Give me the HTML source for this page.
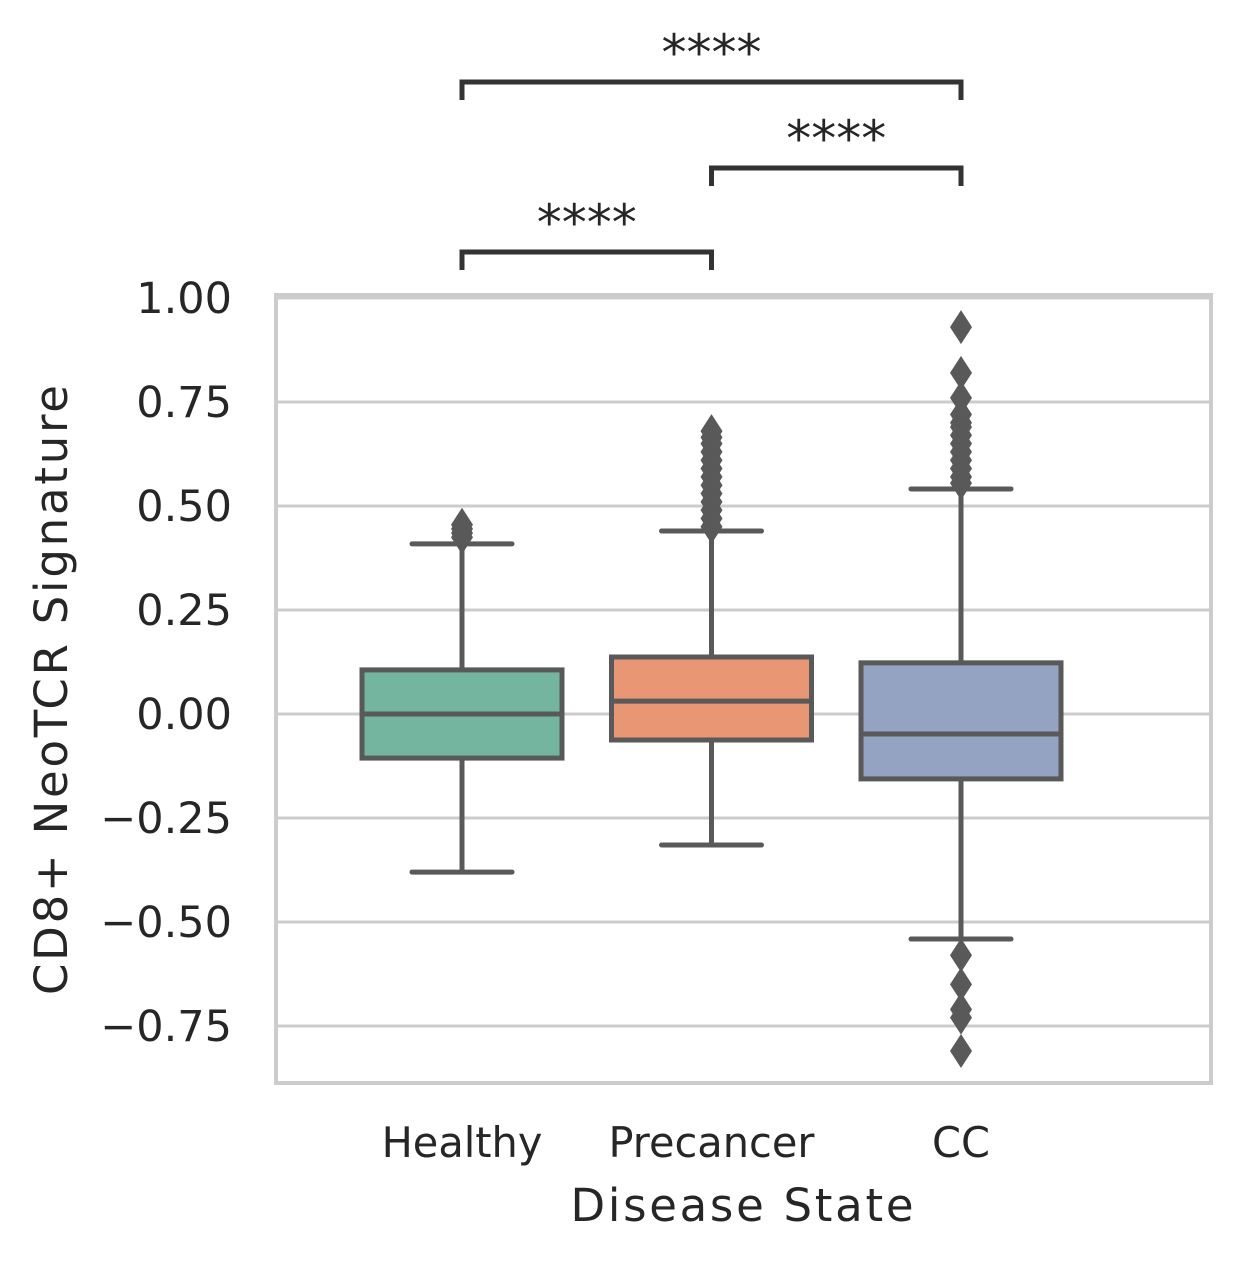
<!DOCTYPE html>
<html><head><meta charset="utf-8"><style>
html,body{margin:0;padding:0;background:#fff;}
svg{display:block;font-family:"DejaVu Sans","Liberation Sans",sans-serif;}
</style></head><body>
<svg id="chart" width="1241" height="1261" viewBox="0 0 1241 1261" xmlns="http://www.w3.org/2000/svg">
<g id="grid"></g>
<g id="boxes"></g>
<rect x="276" y="295" width="935" height="788" fill="none" stroke="#cccccc" stroke-width="4"/>
<g id="yticks"></g>
<g id="xticks"></g>
<g id="annot"></g>
<text x="742" y="1221" font-size="45" fill="#262626" text-anchor="middle" textLength="343">Disease State</text>
<text transform="translate(67,690) rotate(-90)" font-size="45" fill="#262626" text-anchor="middle" textLength="610">CD8+ NeoTCR Signature</text>
</svg>
<script>
const categories = ["Healthy", "Precancer", "CC"];
const colors = ["#73b59e", "#e99674", "#94a3c2"];
const whiskerLow = [-0.38, -0.315, -0.541];
const q1 = [-0.106, -0.0625, -0.156];
const median = [0.0, 0.031, -0.048];
const q3 = [0.106, 0.137, 0.123];
const whiskerHigh = [0.409, 0.44, 0.541];
const outliersHealthy = [0.425, 0.435, 0.445, 0.455];
const outliersPrecancer = [0.45,0.47,0.49,0.51,0.53,0.55,0.57,0.59,0.61,0.63,0.65,0.665,0.68];
const outliersCC = [0.555,0.57,0.59,0.61,0.63,0.65,0.67,0.69,0.70,0.72,0.76,0.82,0.93,-0.58,-0.65,-0.71,-0.73,-0.81];
const outliers = [outliersHealthy, outliersPrecancer, outliersCC];
const yTicks = [1.0, 0.75, 0.5, 0.25, 0, -0.25, -0.5, -0.75];
const yTickLabels = ["1.00","0.75","0.50","0.25","0.00","\u22120.25","\u22120.50","\u22120.75"];
const pairs = [[0,1],[1,2],[0,2]];
const pairLabels = ["****","****","****"];

const NS="http://www.w3.org/2000/svg";
function y(v){return 714 - v*416;}
function x(i){return 462 + i*249.5;}
function mk(tag, attrs, parent){const e=document.createElementNS(NS,tag);for(const k in attrs)e.setAttribute(k,attrs[k]);parent.appendChild(e);return e;}
const grid=document.getElementById('grid'), boxes=document.getElementById('boxes'), yt=document.getElementById('yticks'), xt=document.getElementById('xticks'), an=document.getElementById('annot');
yTicks.forEach((v,i)=>{
  const l=mk('line',{x1:276,x2:1211,y1:y(v),y2:y(v),stroke:'#cccccc','stroke-width':3},grid);
  
  
  const t=mk('text',{x:232,y:y(v)+15,'font-size':43,fill:'#262626','text-anchor':'end'},yt);
  t.textContent=yTickLabels[i];
  
  
});
const st='#595959';
categories.forEach((c,i)=>{
  const cx=x(i), hw=100;
  const g=mk('g',{},boxes);
  
  
  mk('line',{x1:cx,x2:cx,y1:y(whiskerLow[i]),y2:y(q1[i]),stroke:st,'stroke-width':5},g);
  mk('line',{x1:cx,x2:cx,y1:y(q3[i]),y2:y(whiskerHigh[i]),stroke:st,'stroke-width':5},g);
  mk('line',{x1:cx-50,x2:cx+50,y1:y(whiskerLow[i]),y2:y(whiskerLow[i]),stroke:st,'stroke-width':5,'stroke-linecap':'round'},g);
  mk('line',{x1:cx-50,x2:cx+50,y1:y(whiskerHigh[i]),y2:y(whiskerHigh[i]),stroke:st,'stroke-width':5,'stroke-linecap':'round'},g);
  mk('rect',{x:cx-hw,y:y(q3[i]),width:2*hw,height:y(q1[i])-y(q3[i]),fill:colors[i],stroke:st,'stroke-width':5},g);
  mk('line',{x1:cx-hw,x2:cx+hw,y1:y(median[i]),y2:y(median[i]),stroke:st,'stroke-width':5},g);
  outliers[i].forEach(v=>{
    const p=mk('polygon',{points:`${cx},${y(v)-17} ${cx+11},${y(v)} ${cx},${y(v)+17} ${cx-11},${y(v)}`,fill:st},g);
    
    
  });
  const t=mk('text',{x:cx,y:1157,'font-size':41.5,fill:'#262626','text-anchor':'middle'},xt);
  t.textContent=c;
  
  
});
const levels=[252,168,82];
pairs.forEach((p,k)=>{
  const yy=levels[k], x1=x(p[0]), x2=x(p[1]);
  const path=mk('path',{d:`M${x1},${yy+18} L${x1},${yy} L${x2},${yy} L${x2},${yy+18}`,fill:'none',stroke:'#333333','stroke-width':5},an);
  
  
  const t=mk('text',{x:(x1+x2)/2,y:yy-12,'font-size':50,fill:'#262626','text-anchor':'middle'},an);
  t.textContent=pairLabels[k];
  
  
});
</script>
</body></html>
